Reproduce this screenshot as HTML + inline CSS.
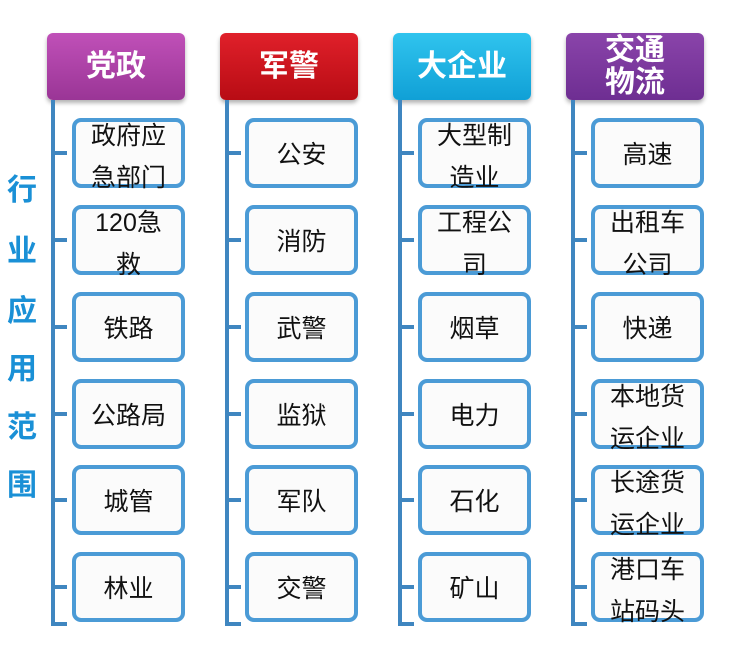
<!DOCTYPE html>
<html><head><meta charset="utf-8"><style>
body{margin:0;width:750px;height:655px;background:#fff;position:relative;overflow:hidden;font-family:"Liberation Sans","Noto Sans CJK SC",sans-serif}
.h{position:absolute;top:33px;width:138px;height:67px;border-radius:6px;color:#fff;font-weight:bold;font-size:30px;display:flex;align-items:center;justify-content:center;text-align:center;line-height:32px;box-shadow:0 3px 4px rgba(0,0,0,.3)}
.v{position:absolute;top:100px;width:4px;height:526px;background:#3f86c0}
.t{position:absolute;width:16px;height:4px;background:#3f86c0}
.b{position:absolute;width:105px;height:62px;border:4px solid #4b9bd6;border-radius:9px;background:#fbfbfb;font-size:25px;color:#111;text-align:center;display:flex;align-items:center;justify-content:center}
.b.two{line-height:42px;align-items:flex-start}
.b.two span{margin-top:-7px}
.s{position:absolute;left:7px;width:30px;font-size:30px;font-weight:bold;color:#1a90d6;text-align:center}
</style></head><body>
<div class="h" style="left:47px;background:linear-gradient(#c050b8,#9a3596)">党政</div>
<div class="h" style="left:220px;background:linear-gradient(#e0202a,#b80c14)">军警</div>
<div class="h" style="left:393px;background:linear-gradient(#30c4ee,#10a0d6)">大企业</div>
<div class="h" style="left:566px;background:linear-gradient(#8a44aa,#6e2e92)">交通<br>物流</div>

<div class="v" style="left:51px"></div><div class="v" style="left:225px"></div><div class="v" style="left:398px"></div><div class="v" style="left:571px"></div>

<div class="s" style="top:165px">行</div>
<div class="s" style="top:226px">业</div>
<div class="s" style="top:286px">应</div>
<div class="s" style="top:344px">用</div>
<div class="s" style="top:402px">范</div>
<div class="s" style="top:460px">围</div>

<!-- ticks -->
<div class="t" style="left:51px;top:151px"></div><div class="t" style="left:51px;top:238px"></div><div class="t" style="left:51px;top:325px"></div><div class="t" style="left:51px;top:412px"></div><div class="t" style="left:51px;top:498px"></div><div class="t" style="left:51px;top:585px"></div><div class="t" style="left:51px;top:622px"></div>
<div class="t" style="left:225px;top:151px"></div><div class="t" style="left:225px;top:238px"></div><div class="t" style="left:225px;top:325px"></div><div class="t" style="left:225px;top:412px"></div><div class="t" style="left:225px;top:498px"></div><div class="t" style="left:225px;top:585px"></div><div class="t" style="left:225px;top:622px"></div>
<div class="t" style="left:398px;top:151px"></div><div class="t" style="left:398px;top:238px"></div><div class="t" style="left:398px;top:325px"></div><div class="t" style="left:398px;top:412px"></div><div class="t" style="left:398px;top:498px"></div><div class="t" style="left:398px;top:585px"></div><div class="t" style="left:398px;top:622px"></div>
<div class="t" style="left:571px;top:151px"></div><div class="t" style="left:571px;top:238px"></div><div class="t" style="left:571px;top:325px"></div><div class="t" style="left:571px;top:412px"></div><div class="t" style="left:571px;top:498px"></div><div class="t" style="left:571px;top:585px"></div><div class="t" style="left:571px;top:622px"></div>

<div class="b two" style="left:72px;top:118px"><span>政府应<br>急部门</span></div>
<div class="b two" style="left:72px;top:205px"><span>120急<br>救</span></div>
<div class="b" style="left:72px;top:292px">铁路</div>
<div class="b" style="left:72px;top:379px">公路局</div>
<div class="b" style="left:72px;top:465px">城管</div>
<div class="b" style="left:72px;top:552px">林业</div>

<div class="b" style="left:245px;top:118px">公安</div>
<div class="b" style="left:245px;top:205px">消防</div>
<div class="b" style="left:245px;top:292px">武警</div>
<div class="b" style="left:245px;top:379px">监狱</div>
<div class="b" style="left:245px;top:465px">军队</div>
<div class="b" style="left:245px;top:552px">交警</div>

<div class="b two" style="left:418px;top:118px"><span>大型制<br>造业</span></div>
<div class="b two" style="left:418px;top:205px"><span>工程公<br>司</span></div>
<div class="b" style="left:418px;top:292px">烟草</div>
<div class="b" style="left:418px;top:379px">电力</div>
<div class="b" style="left:418px;top:465px">石化</div>
<div class="b" style="left:418px;top:552px">矿山</div>

<div class="b" style="left:591px;top:118px">高速</div>
<div class="b two" style="left:591px;top:205px"><span>出租车<br>公司</span></div>
<div class="b" style="left:591px;top:292px">快递</div>
<div class="b two" style="left:591px;top:379px"><span>本地货<br>运企业</span></div>
<div class="b two" style="left:591px;top:465px"><span>长途货<br>运企业</span></div>
<div class="b two" style="left:591px;top:552px"><span>港口车<br>站码头</span></div>
</body></html>
